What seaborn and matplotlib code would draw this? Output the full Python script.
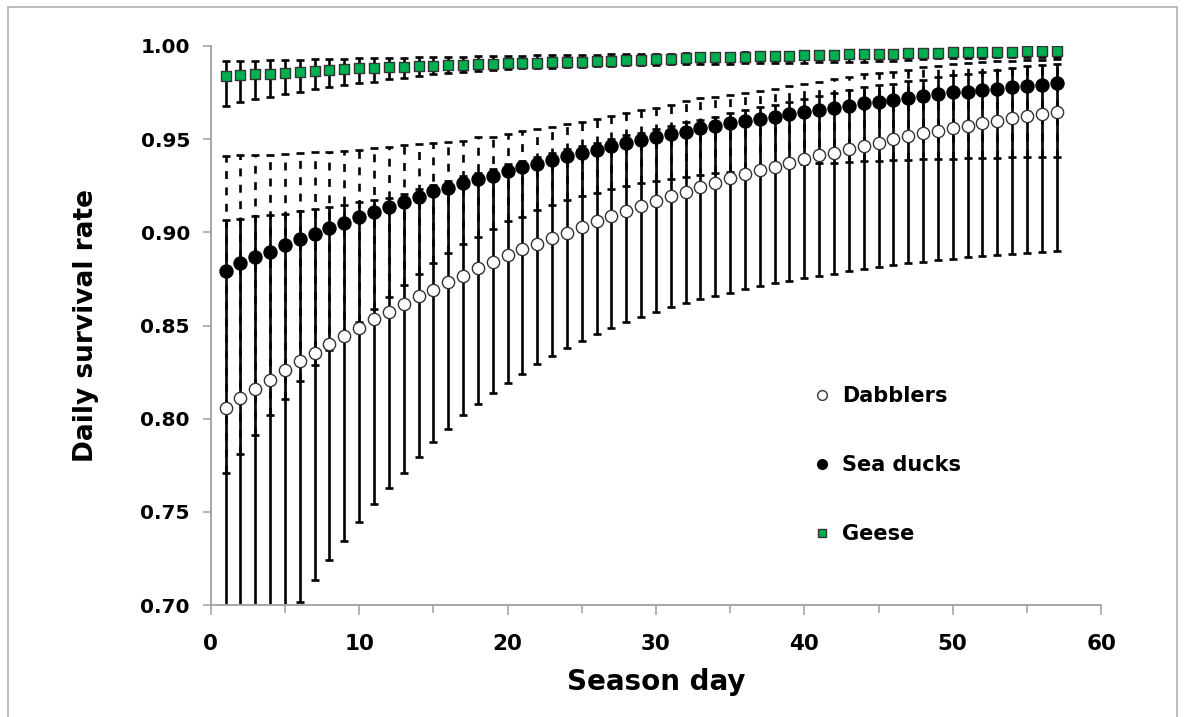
import numpy as np
import pandas as pd
import seaborn as sns
import matplotlib.pyplot as plt
from matplotlib.lines import Line2D
from matplotlib.patches import Rectangle

days = list(range(1, 58))

# Dabblers: mean and 95% CI
dab_mean = [0.8060, 0.8110, 0.8160, 0.8210, 0.8260, 0.8310, 0.8355, 0.8400, 0.8444, 0.8486,
            0.8534, 0.8573, 0.8614, 0.8656, 0.8691, 0.8731, 0.8765, 0.8806, 0.8842, 0.8876,
            0.8908, 0.8937, 0.8971, 0.8998, 0.9030, 0.9058, 0.9087, 0.9114, 0.9142, 0.9169,
            0.9196, 0.9218, 0.9244, 0.9266, 0.9293, 0.9313, 0.9332, 0.9352, 0.9373, 0.9395,
            0.9415, 0.9427, 0.9449, 0.9463, 0.9481, 0.9499, 0.9517, 0.9531, 0.9545, 0.9558,
            0.9570, 0.9585, 0.9599, 0.9612, 0.9624, 0.9632, 0.9647]
dab_lo = [0.6320, 0.6480, 0.6630, 0.6770, 0.6900, 0.7016, 0.7134, 0.7240, 0.7345, 0.7445,
          0.7540, 0.7630, 0.7710, 0.7796, 0.7876, 0.7944, 0.8020, 0.8080, 0.8140, 0.8189,
          0.8242, 0.8292, 0.8339, 0.8382, 0.8416, 0.8455, 0.8489, 0.8518, 0.8545, 0.8573,
          0.8600, 0.8621, 0.8641, 0.8658, 0.8677, 0.8695, 0.8711, 0.8726, 0.8740, 0.8754,
          0.8766, 0.8779, 0.8790, 0.8802, 0.8813, 0.8824, 0.8833, 0.8842, 0.8851, 0.8858,
          0.8865, 0.8872, 0.8879, 0.8885, 0.8890, 0.8895, 0.8900]
dab_hi = [0.9066, 0.9070, 0.9085, 0.9092, 0.9100, 0.9114, 0.9125, 0.9134, 0.9148, 0.9162,
          0.9173, 0.9185, 0.9205, 0.9230, 0.9255, 0.9275, 0.9300, 0.9320, 0.9340, 0.9365,
          0.9385, 0.9405, 0.9425, 0.9445, 0.9465, 0.9480, 0.9500, 0.9520, 0.9535, 0.9555,
          0.9570, 0.9590, 0.9605, 0.9620, 0.9640, 0.9655, 0.9670, 0.9685, 0.9700, 0.9715,
          0.9730, 0.9745, 0.9765, 0.9780, 0.9789, 0.9798, 0.9810, 0.9816, 0.9834, 0.9843,
          0.9848, 0.9860, 0.9870, 0.9880, 0.9890, 0.9896, 0.9905]

# Sea ducks
sd_mean = [0.8793, 0.8835, 0.8866, 0.8895, 0.8930, 0.8964, 0.8990, 0.9022, 0.9051, 0.9080,
           0.9108, 0.9135, 0.9160, 0.9191, 0.9220, 0.9236, 0.9263, 0.9284, 0.9304, 0.9328,
           0.9349, 0.9366, 0.9388, 0.9409, 0.9427, 0.9441, 0.9463, 0.9477, 0.9495, 0.9513,
           0.9526, 0.9540, 0.9558, 0.9572, 0.9585, 0.9597, 0.9608, 0.9620, 0.9635, 0.9647,
           0.9656, 0.9667, 0.9680, 0.9694, 0.9698, 0.9712, 0.9718, 0.9731, 0.9740, 0.9750,
           0.9754, 0.9762, 0.9770, 0.9778, 0.9786, 0.9792, 0.9799]
sd_lo = [0.7711, 0.7813, 0.7915, 0.8018, 0.8108, 0.8202, 0.8287, 0.8367, 0.8448, 0.8519,
         0.8591, 0.8654, 0.8715, 0.8779, 0.8833, 0.8887, 0.8937, 0.8976, 0.9016, 0.9058,
         0.9083, 0.9119, 0.9146, 0.9173, 0.9196, 0.9212, 0.9234, 0.9250, 0.9263, 0.9277,
         0.9284, 0.9298, 0.9306, 0.9316, 0.9325, 0.9334, 0.9338, 0.9350, 0.9357, 0.9365,
         0.9372, 0.9373, 0.9379, 0.9380, 0.9382, 0.9388, 0.9389, 0.9391, 0.9392, 0.9395,
         0.9396, 0.9398, 0.9400, 0.9402, 0.9403, 0.9404, 0.9406]
sd_hi = [0.9409, 0.9413, 0.9415, 0.9416, 0.9418, 0.9424, 0.9431, 0.9431, 0.9438, 0.9441,
         0.9454, 0.9459, 0.9468, 0.9472, 0.9481, 0.9486, 0.9491, 0.9509, 0.9511, 0.9530,
         0.9543, 0.9554, 0.9567, 0.9581, 0.9593, 0.9606, 0.9624, 0.9642, 0.9656, 0.9669,
         0.9683, 0.9705, 0.9719, 0.9728, 0.9735, 0.9746, 0.9758, 0.9767, 0.9785, 0.9796,
         0.9808, 0.9823, 0.9832, 0.9848, 0.9852, 0.9858, 0.9869, 0.9885, 0.9893, 0.9902,
         0.9909, 0.9912, 0.9917, 0.9920, 0.9924, 0.9926, 0.9929]

# Geese
g_mean = [0.9840, 0.9844, 0.9848, 0.9851, 0.9857, 0.9862, 0.9866, 0.9871, 0.9875, 0.9879,
          0.9881, 0.9886, 0.9888, 0.9892, 0.9894, 0.9898, 0.9899, 0.9902, 0.9903, 0.9906,
          0.9908, 0.9910, 0.9912, 0.9914, 0.9915, 0.9918, 0.9920, 0.9922, 0.9925, 0.9930,
          0.9932, 0.9935, 0.9938, 0.9941, 0.9942, 0.9943, 0.9945, 0.9946, 0.9947, 0.9949,
          0.9950, 0.9952, 0.9954, 0.9956, 0.9957, 0.9959, 0.9961, 0.9963, 0.9964, 0.9965,
          0.9966, 0.9967, 0.9968, 0.9969, 0.9970, 0.9972, 0.9973]
g_lo = [0.9680, 0.9701, 0.9714, 0.9728, 0.9741, 0.9755, 0.9771, 0.9782, 0.9791, 0.9800,
        0.9808, 0.9823, 0.9830, 0.9840, 0.9848, 0.9857, 0.9862, 0.9866, 0.9871, 0.9875,
        0.9880, 0.9881, 0.9884, 0.9887, 0.9888, 0.9893, 0.9894, 0.9898, 0.9899, 0.9900,
        0.9901, 0.9902, 0.9903, 0.9904, 0.9905, 0.9906, 0.9907, 0.9908, 0.9909, 0.9910,
        0.9911, 0.9912, 0.9913, 0.9914, 0.9917, 0.9921, 0.9926, 0.9932, 0.9934, 0.9935,
        0.9936, 0.9937, 0.9938, 0.9938, 0.9939, 0.9940, 0.9941]
g_hi = [0.9919, 0.9920, 0.9921, 0.9922, 0.9924, 0.9925, 0.9927, 0.9929, 0.9931, 0.9933,
        0.9934, 0.9936, 0.9937, 0.9939, 0.9940, 0.9942, 0.9943, 0.9944, 0.9946, 0.9947,
        0.9948, 0.9949, 0.9950, 0.9951, 0.9952, 0.9953, 0.9954, 0.9955, 0.9956, 0.9958,
        0.9959, 0.9960, 0.9962, 0.9963, 0.9964, 0.9965, 0.9966, 0.9967, 0.9968, 0.9969,
        0.9970, 0.9971, 0.9972, 0.9973, 0.9974, 0.9975, 0.9976, 0.9977, 0.9978, 0.9979,
        0.9980, 0.9981, 0.9981, 0.9982, 0.9983, 0.9984, 0.9985]

groups = ["Dabblers", "Sea ducks", "Geese"]
y_ticks = [0.70, 0.75, 0.80, 0.85, 0.90, 0.95, 1.00]
x_ticks = [0, 10, 20, 30, 40, 50, 60]

sns.set_style("ticks")
plt.rcParams['font.family'] = ['DejaVu Sans']
plt.rcParams['font.weight'] = 'bold'
plt.rcParams['text.color'] = 'black'
plt.rcParams['axes.labelcolor'] = 'black'

df = pd.DataFrame({
    "day": days * 3,
    "rate": dab_mean + sd_mean + g_mean,
    "group": [groups[0]] * 57 + [groups[1]] * 57 + [groups[2]] * 57,
})

fig = plt.figure(figsize=(11.84, 7.17), dpi=100)
ax = fig.add_axes([0.178, 0.156, 0.752, 0.780])

# error bars
# ----------------------------------------------------------------------
def draw_bars(mean, lo, hi, dashed=False):
    mean, lo, hi = np.array(mean), np.array(lo), np.array(hi)
    eb = ax.errorbar(days, mean, yerr=[mean - lo, hi - mean], fmt='none',
                     ecolor='black', elinewidth=1.9, capsize=3.2, capthick=1.9, zorder=2)
    if dashed:
        eb.lines[2][0].set_linestyle((0, (3.0, 3.2)))
    return eb

draw_bars(dab_mean, dab_lo, dab_hi)
draw_bars(sd_mean, sd_lo, sd_hi, dashed=True)
draw_bars(g_mean, g_lo, g_hi)

# markers
# ----------------------------------------------------------------------
styles = {
    "Dabblers": dict(marker='o', color='white', edgecolor='#333333', s=78),
    "Sea ducks": dict(marker='o', color='black', edgecolor='black', s=88),
    "Geese": dict(marker='s', color='#00b050', edgecolor='#333333', s=52),
}
for g in groups:
    sns.scatterplot(data=df[df["group"] == g], x="day", y="rate", ax=ax,
                    linewidth=1.0, zorder=3, legend=False, **styles[g])

ax.set_xlim(0, 60)
ax.set_ylim(0.70, 1.00)
ax.set_xticks(x_ticks)
ax.set_xticks([5, 15, 25, 35, 45, 55], minor=True)
ax.set_yticks(y_ticks)
ax.set_yticklabels(["{:.2f}".format(v) for v in y_ticks], fontsize=14.5, fontweight='bold')
ax.set_xticklabels([str(v) for v in x_ticks], fontsize=15.5, fontweight='bold')

sns.despine(ax=ax)
for side in ['left', 'bottom']:
    ax.spines[side].set_color('#a6a6a6')
    ax.spines[side].set_linewidth(1.4)
ax.tick_params(axis='both', which='both', color='#a6a6a6', labelcolor='black',
               width=1.2, direction='out')
ax.tick_params(axis='y', length=6, pad=9)
ax.tick_params(axis='x', which='major', length=7, pad=14)
ax.tick_params(axis='x', which='minor', length=6)

ax.set_xlabel("Season day", fontsize=20, fontweight='bold', labelpad=10)
ax.set_ylabel("Daily survival rate", fontsize=19, fontweight='bold', labelpad=30)

# legend
handles = [
    Line2D([], [], linestyle='none', marker='o', markersize=7, markerfacecolor='white',
           markeredgecolor='#333333', markeredgewidth=1.0),
    Line2D([], [], linestyle='none', marker='o', markersize=7, markerfacecolor='black',
           markeredgecolor='black'),
    Line2D([], [], linestyle='none', marker='s', markersize=6, markerfacecolor='#00b050',
           markeredgecolor='#333333', markeredgewidth=1.0),
]
ax.legend(handles, groups, loc='center left', bbox_to_anchor=(0.665, 0.25), frameon=False,
          prop={'size': 15, 'weight': 'bold'}, labelspacing=2.35, handlelength=0.8,
          handletextpad=0.6, borderpad=0, labelcolor='black')

# outer border of the figure
fig.patches.append(Rectangle((8 / 1184, -0.02), 1169 / 1184, 1.02 - 7 / 717,
                             transform=fig.transFigure, fill=False,
                             edgecolor='#b0b0b0', linewidth=1.2))

plt.savefig("out.png", dpi=100)
